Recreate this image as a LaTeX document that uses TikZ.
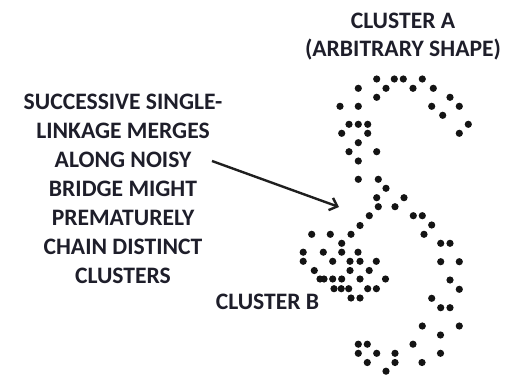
\documentclass[tikz,border=0pt]{standalone}
\usepackage{fontspec}
\setmainfont{Carlito}
\usetikzlibrary{arrows.meta,positioning}
\definecolor{inkdark}{RGB}{30,30,42}

\begin{document}
\begin{tikzpicture}[x=1pt,y=-1pt,
  labeltext/.style={font=\fontsize{23.6}{29}\selectfont\bfseries, text=inkdark, align=center, inner sep=0pt},
  pointdot/.style={fill=black!92},
  mergearrow/.style={draw=black!88, line width=2.4pt, -{Straight Barb[length=7pt,width=13pt]}}]
\useasboundingbox (0,0) rectangle (510,374);
% Titles
\node[labeltext, font=\fontsize{23.6}{27.5}\selectfont\bfseries] (clusterA) at (403,36.6) {CLUSTER A\\(ARBITRARY SHAPE)};
\node[labeltext] (note) at (123,188.4) {SUCCESSIVE SINGLE-\\LINKAGE MERGES\\ALONG NOISY\\BRIDGE MIGHT\\PREMATURELY\\CHAIN DISTINCT\\CLUSTERS};
\node[labeltext] (clusterB) at (267.5,302) {CLUSTER B};
% Cluster A (upper arc and bridge)
\foreach \px/\py in {376.7/79, 394.3/79, 403.3/79, 422.3/79,
  358.3/88.3, 386/88.3, 413/88.3, 433.3/88.3, 376.7/97.3, 450/97.3,
  340/106.3, 358.3/106.3, 431.7/106.3, 459.3/106.3, 442.7/115.3,
  349/124.3, 358.3/124.3, 367.7/124.3, 468.3/124.3,
  341.7/133.3, 367.7/133.3, 459.3/133.3, 358.3/142.7,
  349/151.7, 376.7/151.7, 358.3/161, 358.3/179.3, 378.3/179.3,
  386/188.3, 376.7/197.7, 404/197.7, 378.3/206.7, 395/206.7,
  369.3/215.7, 413.3/215.7, 422.3/215.7, 360/225.5, 431.7/225}
  \fill[pointdot] (\px,\py) circle[radius=3.6pt];
% Cluster B (dense blob)
\foreach \px/\py in {311.7/234.3, 330.3/234.3, 351/234.3, 341.7/243.3,
  303.2/252.2, 323.3/252.2, 341.7/252.2, 358/252.2,
  303.2/261.3, 332.7/261.3, 350/261.3, 360/261.3, 376.3/261.3,
  314.3/270.5, 350/270.5, 369.2/270.5,
  320/279, 324/279, 332.7/279, 341.7/279, 360/279, 385.5/279,
  334/288.7, 341.2/288.7, 348.7/288.7, 367.7/288.7, 376.4/288.7,
  351/298, 360/298}
  \fill[pointdot] (\px,\py) circle[radius=3.6pt];
% Lower arc of cluster A
\foreach \px/\py in {424/234.3, 440.7/243.3, 450/243.3, 440.7/261.7, 459.3/261.7,
  450/280, 459.3/289.3, 431.7/298.3, 440.7/307.7, 450/307.7,
  422.3/326, 459.3/326, 440.5/335,
  358.3/344.2, 367.3/344.2, 413/344.2,
  358.3/353.3, 376.7/353.3, 395/353.3, 440.5/353.3,
  367.3/362.5, 395/362.5, 422/362.5, 386/371.2}
  \fill[pointdot] (\px,\py) circle[radius=3.6pt];
% Arrow to the bridge
\coordinate (arrowtail) at (212,161);
\coordinate (bridgegap) at (339,207);
\draw[mergearrow] (arrowtail) -- (bridgegap);
\end{tikzpicture}
\end{document}
